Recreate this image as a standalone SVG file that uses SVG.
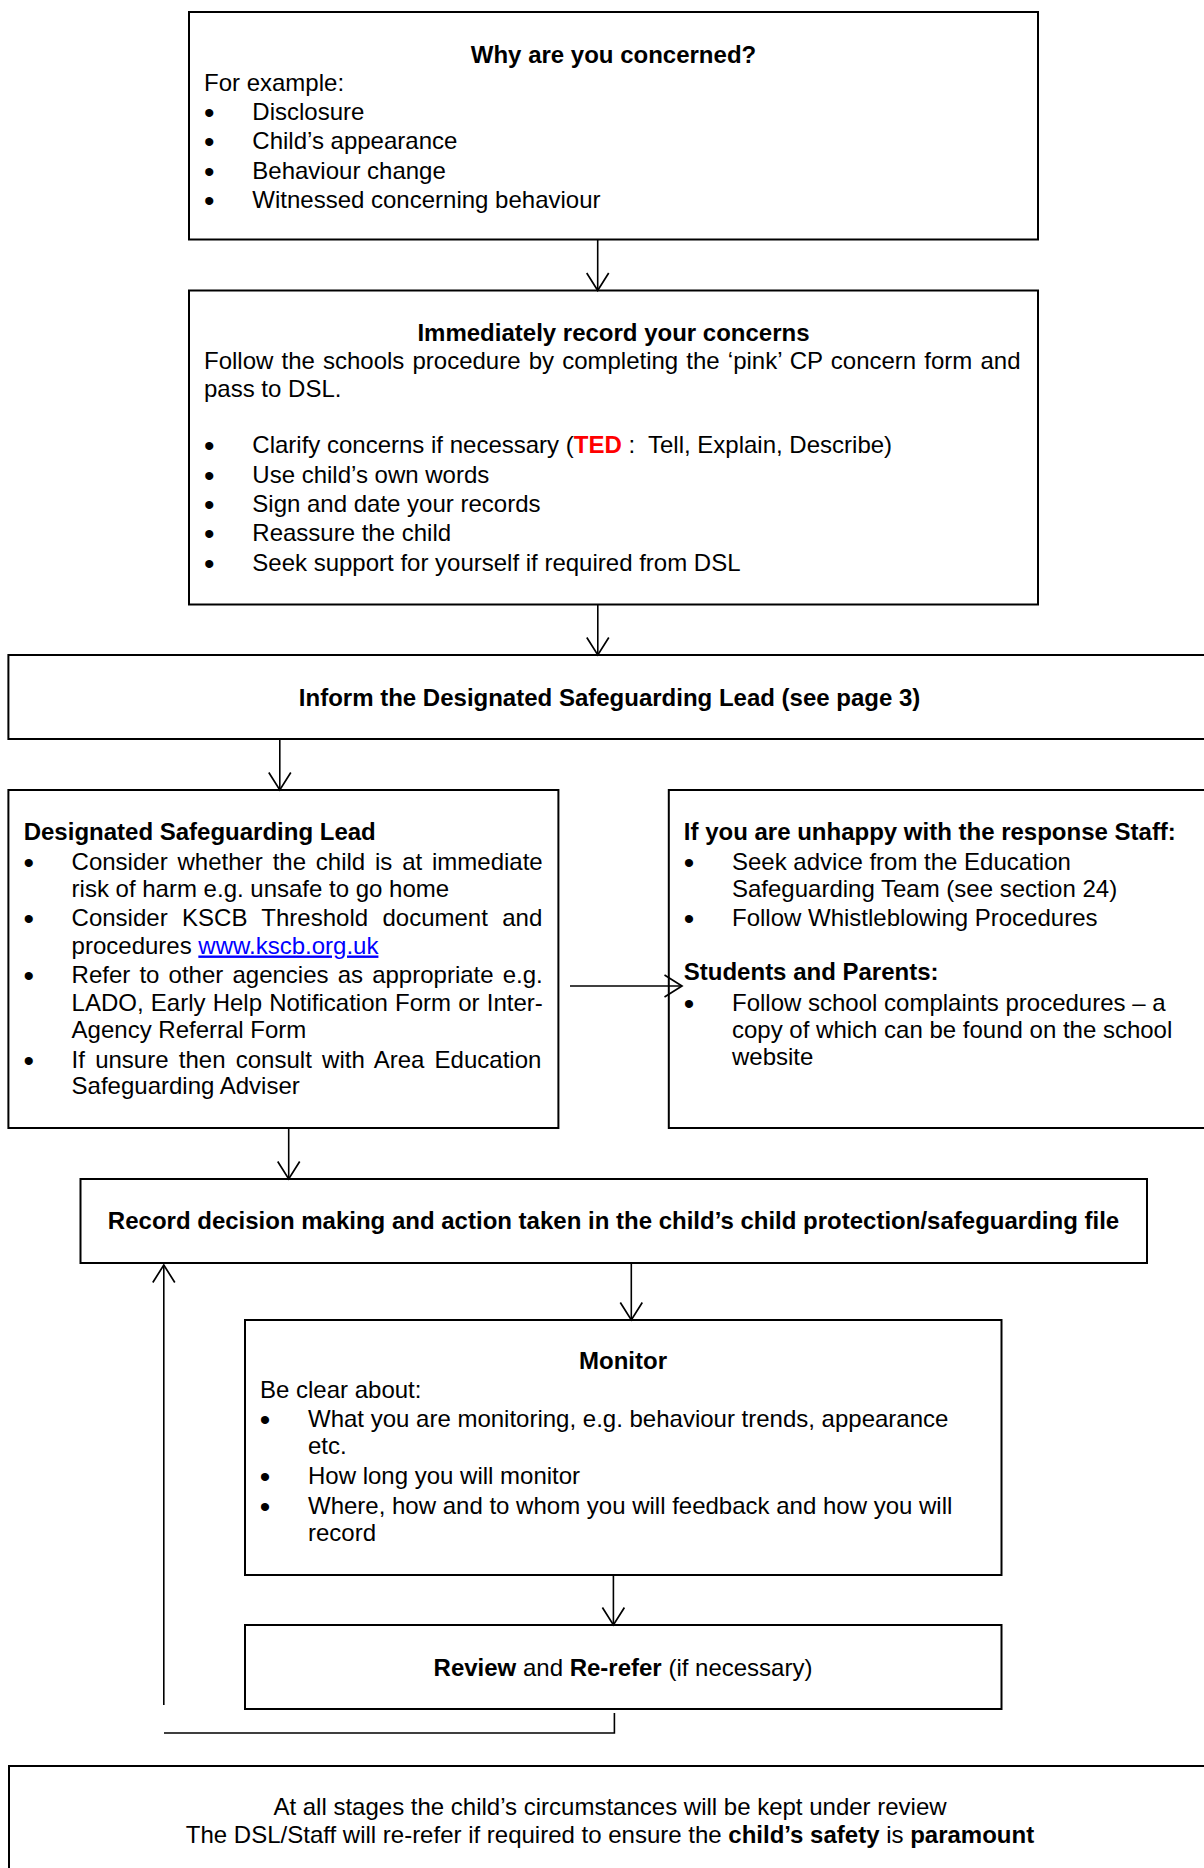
<svg xmlns="http://www.w3.org/2000/svg" width="1204" height="1868" viewBox="0 0 1204 1868">
<style>
.box{fill:none;stroke:#000;stroke-width:2}
.t{font-family:"Liberation Sans",Arial,Helvetica,sans-serif;font-size:24px;fill:#000}
.b{font-weight:bold}
.c{text-anchor:middle}
.bl{font-family:"Liberation Sans",Arial,Helvetica,sans-serif;font-size:30px;fill:#000;text-anchor:middle}
.ln{fill:none;stroke:#000;stroke-width:1.6}
.pre{white-space:pre}
</style>
<defs>
<marker id="ah" viewBox="0 0 20 24" refX="18.5" refY="12" markerWidth="20" markerHeight="24" markerUnits="userSpaceOnUse" orient="auto">
<path d="M1,1 L18.5,12 L1,23" fill="none" stroke="#000" stroke-width="1.7"/>
</marker>
</defs>
<rect width="1204" height="1868" fill="#fff"/>

<g id="node-why">
<rect class="box" x="189" y="12" width="849" height="227.5"/>
<text class="t b c" x="613.5" y="63">Why are you concerned?</text>
<text class="t" x="204" y="91">For example:</text>
<text class="bl" x="209.3" y="123">•</text><text class="t" x="252.3" y="120">Disclosure</text>
<text class="bl" x="209.3" y="152.3">•</text><text class="t" x="252.3" y="149.3">Child’s appearance</text>
<text class="bl" x="209.3" y="181.6">•</text><text class="t" x="252.3" y="178.6">Behaviour change</text>
<text class="bl" x="209.3" y="211">•</text><text class="t" x="252.3" y="208">Witnessed concerning behaviour</text>
</g>

<g id="node-record-concerns">
<rect class="box" x="189" y="290.5" width="849" height="314"/>
<text class="t b c" x="613.5" y="340.7">Immediately record your concerns</text>
<text class="t" x="204" y="369.3" word-spacing="1.46">Follow the schools procedure by completing the ‘pink’ CP concern form and</text>
<text class="t" x="204" y="396.7">pass to DSL.</text>
<text class="bl" x="209.3" y="456.3">•</text><text class="t pre" x="252.3" y="453.3">Clarify concerns if necessary (<tspan class="b" fill="#ff0000">TED</tspan> :  Tell, Explain, Describe)</text>
<text class="bl" x="209.3" y="485.7">•</text><text class="t" x="252.3" y="482.7">Use child’s own words</text>
<text class="bl" x="209.3" y="515">•</text><text class="t" x="252.3" y="512">Sign and date your records</text>
<text class="bl" x="209.3" y="544.4">•</text><text class="t" x="252.3" y="541.4">Reassure the child</text>
<text class="bl" x="209.3" y="573.8">•</text><text class="t" x="252.3" y="570.8">Seek support for yourself if required from DSL</text>
</g>

<g id="node-inform">
<rect class="box" x="8.4" y="655" width="1210" height="84"/>
<text class="t b c" x="609.6" y="706">Inform the Designated Safeguarding Lead (see page 3)</text>
</g>

<g id="node-dsl">
<rect class="box" x="8.4" y="790" width="550" height="338"/>
<text class="t b" x="23.7" y="839.8">Designated Safeguarding Lead</text>
<text class="bl" x="28.7" y="873">•</text>
<text class="t" x="71.6" y="870" word-spacing="3.15">Consider whether the child is at immediate</text>
<text class="t" x="71.6" y="897">risk of harm e.g. unsafe to go home</text>
<text class="bl" x="28.7" y="928.6">•</text>
<text class="t" x="71.6" y="925.6" word-spacing="7.73">Consider KSCB Threshold document and</text>
<text class="t" x="71.6" y="953.5">procedures <tspan fill="#0000ff" text-decoration="underline">www.kscb.org.uk</tspan></text>
<text class="bl" x="28.7" y="986">•</text>
<text class="t" x="71.6" y="983" word-spacing="2.48">Refer to other agencies as appropriate e.g.</text>
<text class="t" x="71.6" y="1010.5" word-spacing="0.5">LADO, Early Help Notification Form or Inter-</text>
<text class="t" x="71.6" y="1037.7">Agency Referral Form</text>
<text class="bl" x="28.7" y="1070.5">•</text>
<text class="t" x="71.6" y="1067.5" word-spacing="3.58">If unsure then consult with Area Education</text>
<text class="t" x="71.6" y="1094">Safeguarding Adviser</text>
</g>

<g id="node-unhappy">
<rect class="box" x="668.8" y="790" width="560" height="338"/>
<text class="t b" x="683.8" y="839.8">If you are unhappy with the response Staff:</text>
<text class="bl" x="689" y="873.4">•</text>
<text class="t" x="732" y="870.4">Seek advice from the Education</text>
<text class="t" x="732" y="896.9">Safeguarding Team (see section 24)</text>
<text class="bl" x="689" y="928.6">•</text>
<text class="t" x="732" y="925.6">Follow Whistleblowing Procedures</text>
<text class="t b" x="683.8" y="980.3">Students and Parents:</text>
<text class="bl" x="689" y="1013.9">•</text>
<text class="t" x="732" y="1010.9">Follow school complaints procedures – a</text>
<text class="t" x="732" y="1037.7">copy of which can be found on the school</text>
<text class="t" x="732" y="1064.5">website</text>
</g>

<g id="node-record-decision">
<rect class="box" x="80.5" y="1179" width="1066.5" height="84"/>
<text class="t b c" x="613.5" y="1228.5">Record decision making and action taken in the child’s child protection/safeguarding file</text>
</g>

<g id="node-monitor">
<rect class="box" x="245" y="1320" width="756.5" height="255"/>
<text class="t b c" x="623" y="1369.3">Monitor</text>
<text class="t" x="260" y="1397.5">Be clear about:</text>
<text class="bl" x="265" y="1429.7">•</text>
<text class="t" x="308" y="1426.7">What you are monitoring, e.g. behaviour trends, appearance</text>
<text class="t" x="308" y="1454">etc.</text>
<text class="bl" x="265" y="1486.5">•</text>
<text class="t" x="308" y="1483.5">How long you will monitor</text>
<text class="bl" x="265" y="1516.5">•</text>
<text class="t" x="308" y="1513.5">Where, how and to whom you will feedback and how you will</text>
<text class="t" x="308" y="1540.5">record</text>
</g>

<g id="node-review">
<rect class="box" x="245" y="1625" width="756.5" height="84"/>
<text class="t c" x="623" y="1676"><tspan class="b">Review</tspan> and <tspan class="b">Re-refer</tspan> (if necessary)</text>
</g>

<g id="node-circumstances">
<rect class="box" x="9" y="1766" width="1210" height="200"/>
<text class="t c" x="610" y="1815">At all stages the child’s circumstances will be kept under review</text>
<text class="t c" x="610" y="1843">The DSL/Staff will re-refer if required to ensure the <tspan class="b">child’s safety</tspan> is <tspan class="b">paramount</tspan></text>
</g>

<g id="connectors">
<line class="ln" x1="597.7" y1="240" x2="597.7" y2="290.5" marker-end="url(#ah)"/>
<line class="ln" x1="597.8" y1="605" x2="597.8" y2="655" marker-end="url(#ah)"/>
<line class="ln" x1="279.8" y1="739.5" x2="279.8" y2="790" marker-end="url(#ah)"/>
<line class="ln" x1="288.7" y1="1128.5" x2="288.7" y2="1179" marker-end="url(#ah)"/>
<line class="ln" x1="570" y1="986" x2="682" y2="986" stroke-width="2.2" marker-end="url(#ah)"/>
<line class="ln" x1="631.3" y1="1263.5" x2="631.3" y2="1320" marker-end="url(#ah)"/>
<line class="ln" x1="613.4" y1="1575.5" x2="613.4" y2="1625" marker-end="url(#ah)"/>
<line class="ln" x1="163.8" y1="1705" x2="163.8" y2="1265" marker-end="url(#ah)"/>
<polyline class="ln" points="614.4,1713 614.4,1733 164,1733"/>
</g>
</svg>
